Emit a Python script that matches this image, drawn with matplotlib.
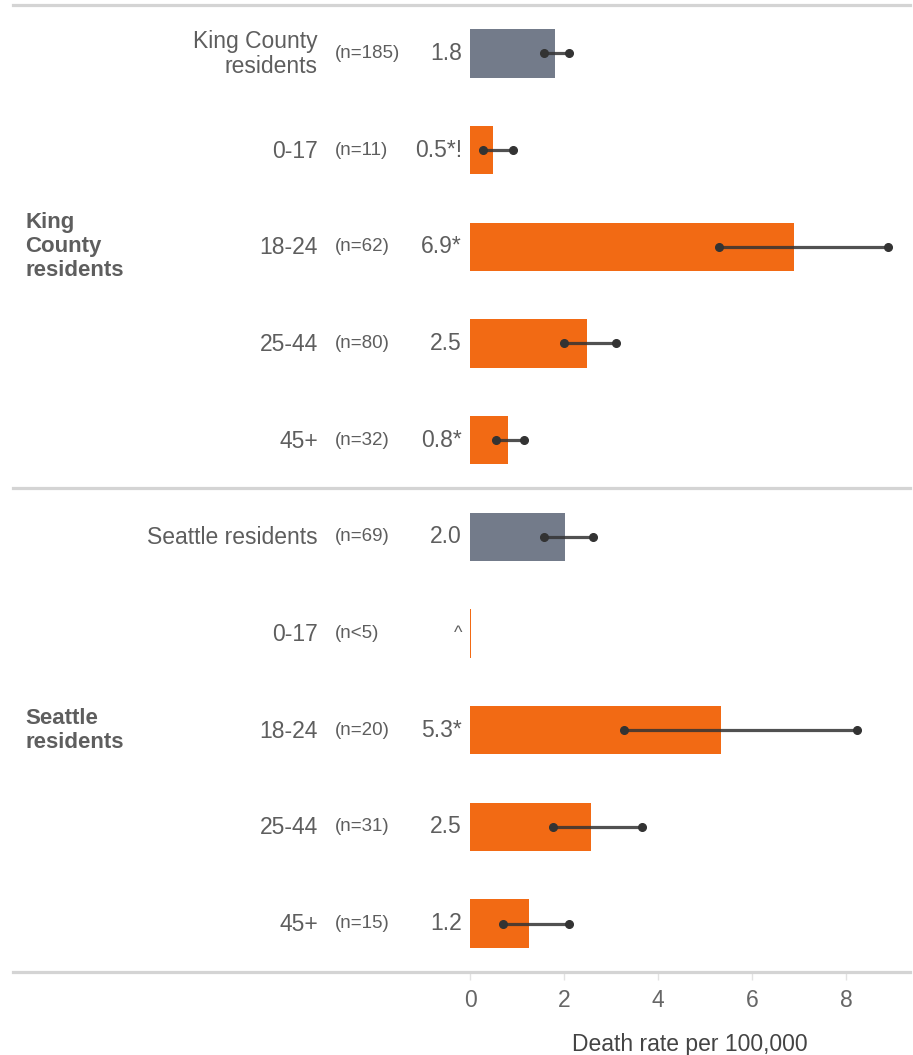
import numpy as np
import matplotlib
matplotlib.use('Agg')
import matplotlib.pyplot as plt
from matplotlib.lines import Line2D
from matplotlib.transforms import blended_transform_factory

plt.rcParams['font.family'] = ['Liberation Sans', 'DejaVu Sans']

# data
groups = ['King\nCounty\nresidents', 'Seattle\nresidents']
group_rows = [2, 7]
categories = ['King County\nresidents', '0-17', '18-24', '25-44', '45+',
              'Seattle residents', '0-17', '18-24', '25-44', '45+']
counts = ['(n=185)', '(n=11)', '(n=62)', '(n=80)', '(n=32)',
          '(n=69)', '(n<5)', '(n=20)', '(n=31)', '(n=15)']
rate_labels = ['1.8', '0.5*!', '6.9*', '2.5', '0.8*',
               '2.0', '^', '5.3*', '2.5', '1.2']
rates = [1.81, 0.49, 6.9, 2.49, 0.81, 2.02, 0.03, 5.34, 2.58, 1.26]
ci_low = [1.57, 0.28, 5.3, 2.0, 0.55, 1.57, np.nan, 3.28, 1.77, 0.70]
ci_high = [2.1, 0.91, 8.9, 3.1, 1.15, 2.62, np.nan, 8.23, 3.66, 2.1]
is_total = [True, False, False, False, False, True, False, False, False, False]
xticks = [0, 2, 4, 6, 8]

ORANGE = '#F26A14'
SLATE = '#737B8A'
TEXT = '#5e5e5e'
W, H = 913, 1055

fig = plt.figure(figsize=(W / 100, H / 100), dpi=100)
ax = fig.add_axes([470 / W, 1 - 972 / H, 440 / W, 967 / H])

y = np.arange(len(categories))
colors = [SLATE if t else ORANGE for t in is_total]
ax.barh(y, rates, height=0.5, color=colors, zorder=2)

for yi, lo, hi in zip(y, ci_low, ci_high):
    if np.isnan(lo):
        continue
    ax.plot([lo, hi], [yi, yi], color='#333333', lw=2.3, alpha=0.85,
            solid_capstyle='butt', zorder=3)
    ax.plot([lo, hi], [yi, yi], 'o', ms=5.5, color='#333333', zorder=4)

ax.set_xlim(0, 440 / 47)
ax.set_ylim(len(categories) - 0.5, -0.5)
ax.set_yticks([])
ax.set_xticks(xticks)
ax.tick_params(axis='x', length=6, width=1, color='#e2e2e2',
               labelsize=16.5, labelcolor='#666666', pad=6)
for s in ax.spines.values():
    s.set_visible(False)

trans = blended_transform_factory(fig.transFigure, ax.transData)
for yi, cat, n, lab in zip(y, categories, counts, rate_labels):
    ax.text(318 / W, yi + 0.01, cat, transform=trans, ha='right', va='center',
            fontsize=16.5, color=TEXT, linespacing=1.1)
    ax.text(335 / W, yi, n, transform=trans, ha='left', va='center',
            fontsize=13.5, color=TEXT)
    ax.text(462 / W, yi, lab, transform=trans, ha='right', va='center',
            fontsize=16.5 if lab != '^' else 13, color=TEXT)

for g, r in zip(groups, group_rows):
    ax.text(25 / W, r, g, transform=trans, ha='left', va='center',
            fontsize=16, fontweight='bold', color=TEXT, linespacing=1.2)

# separators
for ys in [-0.5, 4.5, len(categories) - 0.5]:
    fig.add_artist(Line2D([13 / W, 910 / W], [ys, ys], transform=trans,
                          color='#d4d4d4', lw=2.3))

fig.text(690 / W, 1 - 1045 / H, 'Death rate per 100,000', ha='center',
         va='center', fontsize=16.5, color='#444444')

fig.savefig('out.png', dpi=100)
